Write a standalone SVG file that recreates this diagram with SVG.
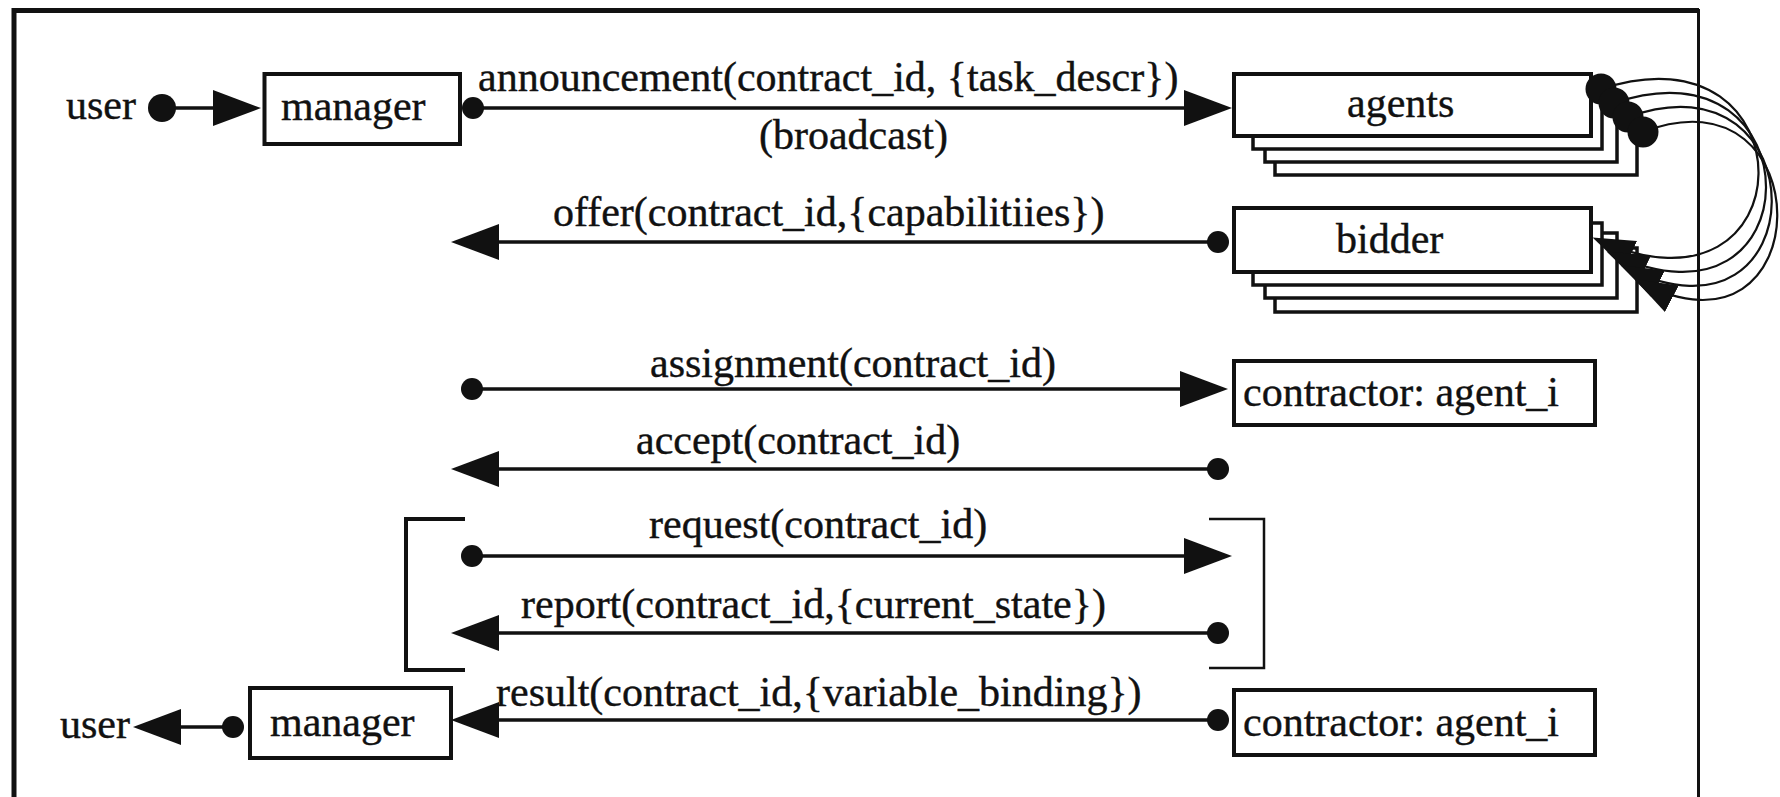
<svg xmlns="http://www.w3.org/2000/svg" width="1780" height="797" viewBox="0 0 1780 797">
  <style>
    .lbl { font-family: "Liberation Serif", "Times New Roman", serif; font-size: 42px; fill: #111; stroke: #111; stroke-width: 0.4; }
    .box { fill: #fff; stroke: #111; stroke-width: 4; }
    .layer { fill: #fff; stroke: #111; stroke-width: 3.5; }
    .msg { fill: none; stroke: #111; stroke-width: 3.5; }
    .loop { fill: none; stroke: #111; stroke-width: 2.2; }
    .frame { fill: none; stroke: #111; }
  </style>
  <defs>
    <marker id="arrow" markerUnits="userSpaceOnUse" markerWidth="50" markerHeight="40" viewBox="0 0 50 40" refX="38" refY="18" orient="auto">
      <path d="M0,0 L48,18 L0,36 Z" fill="#111"/>
    </marker>
    <marker id="arrowS" markerUnits="userSpaceOnUse" markerWidth="46" markerHeight="36" viewBox="0 0 46 36" refX="36" refY="15" orient="auto">
      <path d="M0,0 L42,15 L0,30 Z" fill="#111"/>
    </marker>
    <marker id="dot" markerUnits="userSpaceOnUse" markerWidth="26" markerHeight="26" viewBox="-13 -13 26 26" refX="0" refY="0">
      <circle r="11" fill="#111"/>
    </marker>
    <marker id="dotL" markerUnits="userSpaceOnUse" markerWidth="34" markerHeight="34" viewBox="-17 -17 34 34" refX="0" refY="0">
      <circle r="14" fill="#111"/>
    </marker>
    <marker id="dotLoop" markerUnits="userSpaceOnUse" markerWidth="36" markerHeight="36" viewBox="-18 -18 36 36" refX="0" refY="0">
      <circle r="15.5" fill="#111"/>
    </marker>
  </defs>

  <rect width="1780" height="797" fill="#fff"/>

  <!-- outer frame, open at the bottom -->
  <g id="frame">
    <path class="frame" d="M14,797 V10.5 H1699" stroke-width="5"/>
    <path class="frame" d="M1698.5,9 V797" stroke-width="3"/>
  </g>

  <!-- iteration brackets around request/report -->
  <g id="loop-brackets">
    <path class="frame" d="M465,519 H406 V670 H465" stroke-width="4"/>
    <path class="frame" d="M1209,519 H1264 V668 H1209" stroke-width="2.5" stroke="#333"/>
  </g>

  <g id="user-top"><text class="lbl" x="66" y="119">user</text></g>

  <g id="manager-top">
    <rect class="box" x="264.5" y="74" width="195.5" height="70"/>
    <text class="lbl" x="281" y="120">manager</text>
  </g>

  <g id="agents">
    <rect class="layer" x="1275" y="112" width="362" height="63"/>
    <rect class="layer" x="1265" y="99" width="352" height="63"/>
    <rect class="layer" x="1253" y="88" width="349" height="61"/>
    <rect class="box" x="1234" y="74" width="357" height="62"/>
    <text class="lbl" x="1347" y="117">agents</text>
  </g>

  <g id="bidder">
    <rect class="layer" x="1275" y="248" width="362" height="64"/>
    <rect class="layer" x="1265" y="233" width="352" height="65"/>
    <rect class="layer" x="1253" y="223" width="349" height="62"/>
    <rect class="box" x="1234" y="208" width="357" height="64"/>
    <text class="lbl" x="1336" y="253">bidder</text>
  </g>

  <g id="contractor-assign">
    <rect class="box" x="1234" y="361" width="361" height="64"/>
    <text class="lbl" x="1243" y="406">contractor: agent_i</text>
  </g>

  <g id="contractor-result">
    <rect class="box" x="1234" y="690" width="361" height="65"/>
    <text class="lbl" x="1243" y="736">contractor: agent_i</text>
  </g>

  <g id="manager-bottom">
    <rect class="box" x="250" y="688" width="201" height="70"/>
    <text class="lbl" x="270" y="736">manager</text>
  </g>

  <g id="user-bottom"><text class="lbl" x="60" y="738">user</text></g>

  <!-- messages -->
  <g id="connectors">
    <path class="msg" d="M162,108 H251" marker-start="url(#dotL)" marker-end="url(#arrow)"/>
    <path class="msg" d="M473,108 H1222" marker-start="url(#dot)" marker-end="url(#arrow)"/>
    <path class="msg" d="M1218,242 H461" marker-start="url(#dot)" marker-end="url(#arrow)"/>
    <path class="msg" d="M472,389 H1218" marker-start="url(#dot)" marker-end="url(#arrow)"/>
    <path class="msg" d="M1218,469 H461" marker-start="url(#dot)" marker-end="url(#arrow)"/>
    <path class="msg" d="M472,556 H1222" marker-start="url(#dot)" marker-end="url(#arrow)"/>
    <path class="msg" d="M1218,633 H461" marker-start="url(#dot)" marker-end="url(#arrow)"/>
    <path class="msg" d="M1218,720 H461" marker-start="url(#dot)" marker-end="url(#arrow)"/>
    <path class="msg" d="M233,727 H143" marker-start="url(#dot)" marker-end="url(#arrow)"/>

    <!-- agents loop back as bidders -->
    <path class="loop" d="M1601,89 C1813,19 1810,335 1598,240" marker-start="url(#dotLoop)" marker-end="url(#arrowS)"/>
    <path class="loop" d="M1614,103 C1818,33 1816,349 1612,254" marker-start="url(#dotLoop)" marker-end="url(#arrowS)"/>
    <path class="loop" d="M1628,117 C1821,47 1819,363 1626,268" marker-start="url(#dotLoop)" marker-end="url(#arrowS)"/>
    <path class="loop" d="M1643,132 C1824,62 1821,377 1640,282" marker-start="url(#dotLoop)" marker-end="url(#arrowS)"/>
  </g>

  <!-- message labels -->
  <g id="labels">
    <text class="lbl" x="478" y="91">announcement(contract_id, {task_descr})</text>
    <text class="lbl" x="759" y="149">(broadcast)</text>
    <text class="lbl" x="553" y="226">offer(contract_id,{capabilitiies})</text>
    <text class="lbl" x="650" y="377">assignment(contract_id)</text>
    <text class="lbl" x="636" y="454">accept(contract_id)</text>
    <text class="lbl" x="649" y="538">request(contract_id)</text>
    <text class="lbl" x="521" y="618">report(contract_id,{current_state})</text>
    <text class="lbl" x="496" y="706">result(contract_id,{variable_binding})</text>
  </g>
</svg>
